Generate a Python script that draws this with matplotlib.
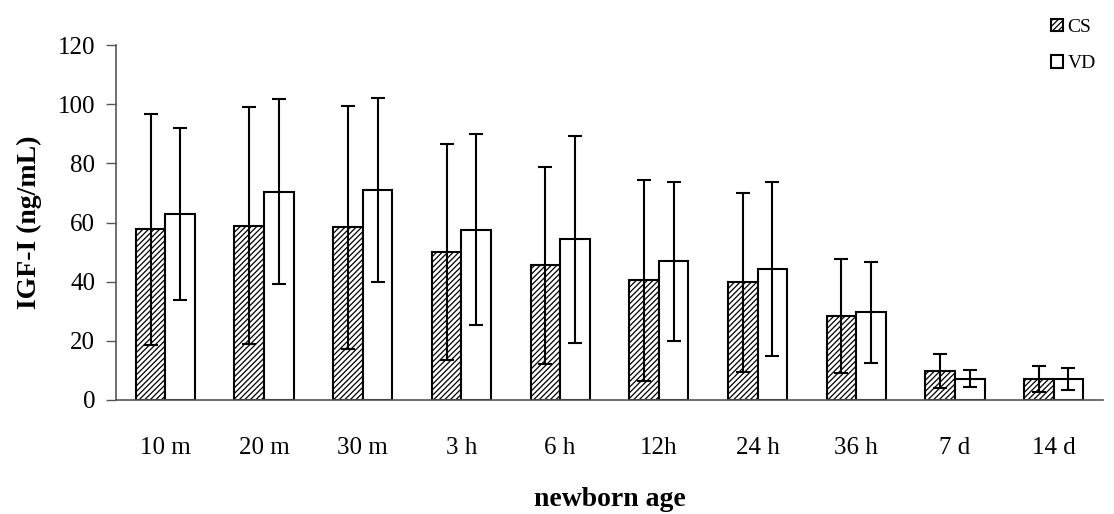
import matplotlib
matplotlib.use("Agg")
import matplotlib.pyplot as plt
import numpy as np

categories = ["10 m", "20 m", "30 m", "3 h", "6 h", "12h", "24 h", "36 h", "7 d", "14 d"]
cs_mean = [57.7, 58.9, 58.4, 50.0, 45.5, 40.5, 39.8, 28.4, 9.8, 7.2]
cs_err = [39.0, 40.0, 41.0, 36.6, 33.3, 34.0, 30.2, 19.3, 5.8, 4.4]
vd_mean = [62.9, 70.4, 71.0, 57.6, 54.4, 46.9, 44.2, 29.6, 7.2, 7.2]
vd_err = [29.0, 31.2, 31.0, 32.2, 35.0, 26.9, 29.4, 17.2, 2.8, 3.7]
series_labels = ["CS", "VD"]

plt.rcParams['font.family'] = ['Liberation Serif', 'DejaVu Serif']
plt.rcParams['hatch.linewidth'] = 0.9
plt.rcParams['hatch.color'] = '#444444'

fig = plt.figure(figsize=(11.14, 5.14), dpi=100)
ax = fig.add_axes([116/1114, 1-400/514, (1103-116)/1114, (400-45)/514])

x = np.arange(len(categories))
w = 0.3
b1 = ax.bar(x - w/2, cs_mean, w, facecolor='white', edgecolor='black', linewidth=1.5,
            hatch='//////', label=series_labels[0], zorder=2)
b2 = ax.bar(x + w/2, vd_mean, w, facecolor='white', edgecolor='black', linewidth=1.5,
            label=series_labels[1], zorder=2)
ax.errorbar(x - w/2, cs_mean, yerr=cs_err, fmt='none', ecolor='black', elinewidth=1.5,
            capsize=5, capthick=1.5, zorder=3)
ax.errorbar(x + w/2, vd_mean, yerr=vd_err, fmt='none', ecolor='black', elinewidth=1.5,
            capsize=5, capthick=1.5, zorder=3)

ax.set_xlim(-0.5, len(categories) - 0.5)
ax.set_ylim(0, 120)
ax.set_yticks(np.arange(0, 121, 20))
ax.set_xticks(x)
ax.set_xticklabels(categories, fontsize=18)
ax.tick_params(axis='x', length=0, pad=27)
ax.tick_params(axis='y', length=7, width=1, labelsize=18, pad=8, colors='#555555', labelcolor='black')
for s in ['top', 'right']:
    ax.spines[s].set_visible(False)
for s in ['left', 'bottom']:
    ax.spines[s].set_color('#555555')
    ax.spines[s].set_linewidth(1.2)

ax.set_ylabel("IGF-I (ng/mL)", fontsize=20, fontweight='bold', labelpad=11)
ax.set_xlabel("newborn age", fontsize=20, fontweight='bold', labelpad=20)

fig.legend(handles=[b1, b2], labels=series_labels, loc='upper left',
           bbox_to_anchor=(1051/1114, 1 - 19/514), frameon=False, fontsize=14,
           handlelength=0.6, handleheight=0.6, handletextpad=0.25,
           labelspacing=1.0, borderaxespad=0, borderpad=0)

fig.savefig("out.png", dpi=100)
